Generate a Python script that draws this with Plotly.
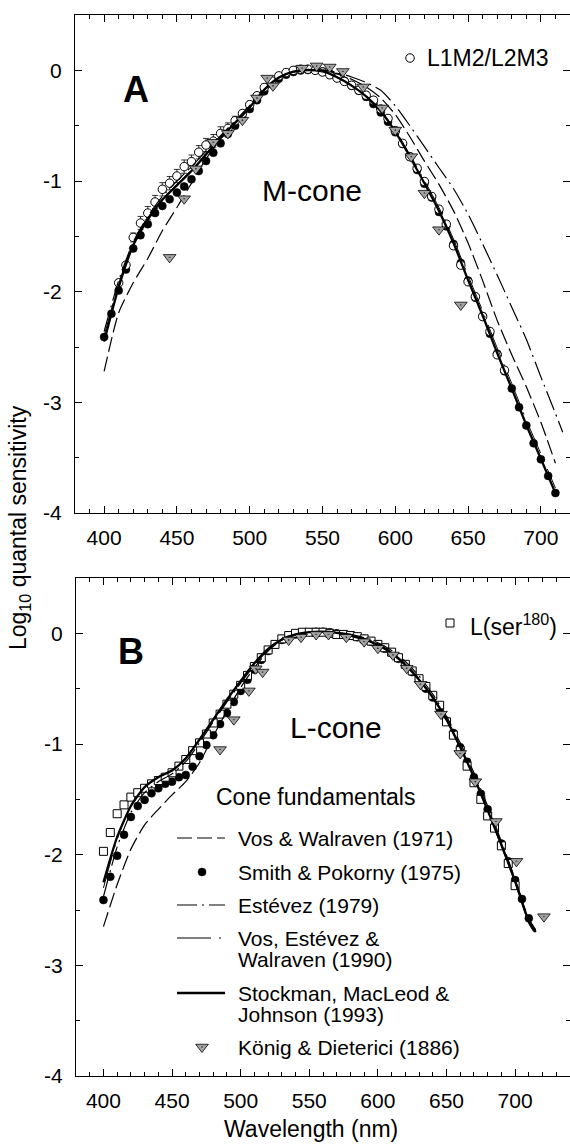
import plotly.graph_objects as go

# ---------------- data : panel A (M-cone) ----------------
wl_5_a = [400, 405, 410, 415, 420, 425, 430, 435, 440, 445, 450, 455, 460, 465, 470, 475,
          480, 485, 490, 495, 500, 505, 510, 515, 520, 525, 530, 535, 540, 545, 550, 555,
          560, 565, 570, 575, 580, 585, 590, 595, 600, 605, 610, 615, 620, 625, 630, 635,
          640, 645, 650, 655, 660, 665, 670, 675, 680, 685, 690, 695, 700, 705, 710]
m_smith_pokorny = [-2.41, -2.20, -1.99, -1.80, -1.61, -1.49, -1.39, -1.29, -1.225, -1.165,
                   -1.105, -1.05, -0.985, -0.91, -0.82, -0.745, -0.66, -0.575, -0.50, -0.43,
                   -0.35, -0.27, -0.19, -0.125, -0.075, -0.04, -0.015, -0.002, 0.003, 0.0,
                   -0.01, -0.03, -0.06, -0.095, -0.14, -0.185, -0.24, -0.305, -0.38, -0.465,
                   -0.56, -0.665, -0.78, -0.90, -1.025, -1.15, -1.28, -1.41, -1.57, -1.74,
                   -1.90, -2.055, -2.22, -2.38, -2.56, -2.72, -2.875, -3.045, -3.21, -3.37,
                   -3.515, -3.665, -3.82]

wl_m_hybrid = [410, 415, 420, 425, 430, 435, 440, 445, 450, 455, 460, 465, 470, 475, 480,
               485, 490, 495, 500, 505, 510, 515, 520, 525, 530, 535, 540, 545, 550, 555,
               560, 565, 570, 575, 580, 585, 590, 595, 600, 605, 610, 615, 620, 625, 630,
               635, 640, 645, 650, 655, 660, 665, 670, 675]
m_hybrid = [-1.92, -1.76, -1.51, -1.38, -1.29, -1.19, -1.075, -1.02, -0.955, -0.87, -0.825,
            -0.74, -0.675, -0.64, -0.57, -0.525, -0.455, -0.39, -0.31, -0.23, -0.155, -0.095,
            -0.05, -0.02, 0.0, 0.01, 0.01, 0.0, -0.015, -0.04, -0.07, -0.10, -0.135, -0.18,
            -0.225, -0.27, -0.35, -0.435, -0.545, -0.66, -0.78, -0.885, -1.005, -1.14, -1.255,
            -1.39, -1.585, -1.76, -1.91, -2.045, -2.225, -2.36, -2.57, -2.71]
m_hybrid_err = [0.03, 0.03, 0.04, 0.06, 0.06, 0.06, 0.06, 0.06, 0.06, 0.06, 0.06, 0.06, 0.06,
                0.06, 0.06, 0.05, 0.04, 0.03, 0.03, 0.03, 0.03, 0.03, 0.03, 0.03, 0.03, 0.03,
                0.03, 0.03, 0.03, 0.03, 0.03, 0.03, 0.03, 0.03, 0.03, 0.03, 0.03, 0.03, 0.03,
                0.03, 0.03, 0.03, 0.03, 0.03, 0.03, 0.03, 0.03, 0.03, 0.03, 0.03, 0.03, 0.03,
                0.03, 0.03]

wl_koenig_m = [445, 455, 463, 475, 485, 495, 505, 512, 516, 536, 546, 555, 564, 578, 591,
               600, 611, 620, 630, 645]
m_koenig = [-1.69, -1.16, -0.89, -0.65, -0.57, -0.45, -0.25, -0.07, -0.14, 0.02, 0.04, 0.03,
            -0.01, -0.15, -0.34, -0.54, -0.78, -1.11, -1.44, -2.12]

wl_10 = [400, 410, 420, 430, 440, 450, 460, 470, 480, 490, 500, 510, 520, 530, 540, 550,
         560, 570, 580, 590, 600, 610, 620, 630, 640, 650, 660, 670, 680, 690, 700, 710]
m_smj = [-2.45, -1.96, -1.58, -1.35, -1.17, -1.04, -0.91, -0.76, -0.61, -0.475, -0.335,
         -0.175, -0.065, -0.012, 0.003, -0.01, -0.062, -0.138, -0.235, -0.37, -0.555, -0.78,
         -1.02, -1.27, -1.56, -1.895, -2.215, -2.555, -2.875, -3.205, -3.51, -3.82]
m_vos_walraven = [-2.72, -2.19, -1.92, -1.70, -1.45, -1.24, -1.02, -0.80, -0.62, -0.47, -0.33,
                  -0.18, -0.07, -0.015, 0.005, 0.0, -0.03, -0.08, -0.15, -0.25, -0.40, -0.60,
                  -0.82, -1.03, -1.27, -1.56, -1.90, -2.26, -2.57, -2.86, -3.18, -3.55]
m_vew = [-2.40, -1.93, -1.56, -1.33, -1.16, -1.03, -0.90, -0.75, -0.60, -0.465, -0.33, -0.175,
         -0.065, -0.012, 0.003, -0.008, -0.058, -0.132, -0.228, -0.36, -0.54, -0.76, -0.995,
         -1.24, -1.525, -1.855, -2.175, -2.51, -2.83, -3.16, -3.465, -3.775]
wl_estevez_m = wl_10 + [715]
m_estevez = [-2.36, -1.90, -1.55, -1.32, -1.14, -1.00, -0.87, -0.73, -0.59, -0.455, -0.32,
             -0.17, -0.065, -0.015, 0.005, 0.005, -0.02, -0.06, -0.11, -0.18, -0.32, -0.50,
             -0.69, -0.88, -1.07, -1.30, -1.57, -1.85, -2.14, -2.43, -2.77, -3.10, -3.27]

# ---------------- data : panel B (L-cone) ----------------
wl_l_ser = [400, 405, 410, 415, 420, 425, 430, 435, 440, 445, 450, 455, 460, 465, 470, 475,
            480, 485, 490, 495, 500, 505, 510, 515, 520, 525, 530, 535, 540, 545, 550, 555,
            560, 565, 570, 575, 580, 585, 590, 595, 600, 605, 610, 615, 620, 625, 630, 635,
            640, 645, 650, 655, 660, 665, 670, 675, 680, 685, 690, 695, 700]
l_ser180 = [-1.97, -1.80, -1.63, -1.55, -1.48, -1.44, -1.40, -1.36, -1.33, -1.30, -1.26,
            -1.20, -1.14, -1.06, -0.99, -0.91, -0.81, -0.73, -0.64, -0.55, -0.47, -0.38,
            -0.30, -0.22, -0.15, -0.10, -0.05, -0.02, 0.0, 0.01, 0.01, 0.01, 0.01, 0.0,
            -0.01, -0.01, -0.02, -0.03, -0.05, -0.07, -0.10, -0.13, -0.17, -0.22, -0.28,
            -0.34, -0.41, -0.48, -0.56, -0.65, -0.80, -0.92, -1.06, -1.20, -1.35, -1.50,
            -1.65, -1.76, -1.92, -2.08, -2.28]

wl_5_b = wl_5_a
l_smith_pokorny = [-2.41, -2.20, -2.01, -1.82, -1.66, -1.56, -1.505, -1.445, -1.40, -1.36,
                   -1.34, -1.30, -1.28, -1.205, -1.11, -1.01, -0.92, -0.82, -0.72, -0.62,
                   -0.52, -0.42, -0.33, -0.24, -0.16, -0.10, -0.06, -0.03, -0.01, 0.0, 0.01,
                   0.015, 0.015, 0.01, 0.0, -0.01, -0.02, -0.035, -0.05, -0.075, -0.10, -0.14,
                   -0.18, -0.23, -0.29, -0.35, -0.42, -0.50, -0.58, -0.68, -0.79, -0.90, -1.03,
                   -1.16, -1.30, -1.45, -1.59, -1.74, -1.90, -2.06, -2.23, -2.40, -2.575]

wl_koenig_l = [485, 495, 506, 511, 516, 535, 544, 555, 564, 577, 590, 600, 611, 621, 631, 646,
               660, 671, 686, 701, 721]
l_koenig = [-1.05, -0.78, -0.52, -0.32, -0.35, -0.06, -0.035, -0.01, -0.01, -0.035, -0.075,
            -0.135, -0.195, -0.315, -0.46, -0.73, -1.085, -1.34, -1.70, -2.06, -2.56]

wl_10_b = wl_10 + [715]
l_smj = [-2.25, -1.84, -1.56, -1.39, -1.30, -1.24, -1.13, -0.96, -0.78, -0.60, -0.43, -0.27,
         -0.14, -0.055, -0.01, 0.01, 0.015, 0.005, -0.02, -0.055, -0.105, -0.18, -0.285,
         -0.42, -0.58, -0.78, -1.03, -1.30, -1.60, -1.91, -2.24, -2.60, -2.70]
l_vos_walraven = [-2.65, -2.27, -1.95, -1.73, -1.59, -1.46, -1.34, -1.17, -0.93, -0.70, -0.49,
                  -0.31, -0.16, -0.06, -0.01, 0.01, 0.015, 0.01, -0.01, -0.045, -0.095, -0.17,
                  -0.275, -0.41, -0.575, -0.78, -1.03, -1.30, -1.60, -1.92, -2.25, -2.62, -2.72]
l_estevez = [-2.38, -1.93, -1.62, -1.44, -1.34, -1.27, -1.16, -0.99, -0.80, -0.62, -0.45,
             -0.29, -0.15, -0.06, -0.015, 0.005, 0.015, 0.01, -0.01, -0.04, -0.085, -0.155,
             -0.255, -0.385, -0.55, -0.75, -0.99, -1.26, -1.56, -1.88, -2.22, -2.58, -2.68]
l_vew = [-2.30, -1.86, -1.56, -1.385, -1.295, -1.235, -1.12, -0.955, -0.775, -0.595, -0.425,
         -0.265, -0.135, -0.05, -0.008, 0.01, 0.015, 0.005, -0.02, -0.055, -0.10, -0.175,
         -0.28, -0.415, -0.575, -0.775, -1.02, -1.29, -1.59, -1.90, -2.23, -2.58, -2.68]

x_ticks = [400, 450, 500, 550, 600, 650, 700]
y_ticks = [-4, -3, -2, -1, 0]
y_ticktext = ["-4", "-3", "-2", "-1", "0"]

# ---------------- geometry (pixels) ----------------
W, H = 570, 1144
ML, MR, MT, MB = 75, 0, 15, 68
PW = W - ML - MR
PH = H - MT - MB


def px(x):
    return (x - ML) / PW


def py(y):
    return (H - MB - y) / PH


FONT = "Arial, Liberation Sans, Helvetica, sans-serif"

# line styles
ST_VW = dict(color="black", width=1.2, dash="15px,5px")
ST_EST = dict(color="black", width=1.2, dash="20px,5px,2px,5px")
ST_VEW = dict(color="black", width=1.0, dash="34px,8px,2px,8px")
ST_SMJ = dict(color="black", width=2.3)
MK_FILLED = dict(symbol="circle", size=8, color="black", line=dict(color="black", width=0.5))
MK_OPEN = dict(symbol="circle", size=8.5, color="white", line=dict(color="black", width=1))
MK_SQ = dict(symbol="square", size=8, color="white", line=dict(color="black", width=1))
MK_TRI = dict(symbol="triangle-down-dot", size=11, color="#a3a3a3",
              line=dict(color="black", width=0.8))

fig = go.Figure()


def add_panel(xa, ya, curves, points):
    for wl, vals, st in curves:
        fig.add_trace(go.Scatter(x=wl, y=vals, mode="lines", line=dict(shape="spline",
                                 smoothing=0.6, **st), xaxis=xa, yaxis=ya,
                                 showlegend=False, hoverinfo="skip"))
    for wl, vals, mk, err in points:
        kw = {}
        if err is not None:
            kw["error_y"] = dict(type="data", array=err, visible=True, color="black",
                                 thickness=0.8, width=3)
        fig.add_trace(go.Scatter(x=wl, y=vals, mode="markers", marker=mk, xaxis=xa,
                                 yaxis=ya, showlegend=False, hoverinfo="skip", **kw))


# panel A: points first, then curves over them, triangles on top
add_panel("x", "y",
          [],
          [(wl_5_a, m_smith_pokorny, MK_FILLED, None),
           (wl_m_hybrid, m_hybrid, MK_OPEN, m_hybrid_err)])
add_panel("x", "y",
          [(wl_10, m_vos_walraven, ST_VW), (wl_estevez_m, m_estevez, ST_EST),
           (wl_10, m_vew, ST_VEW), (wl_10, m_smj, ST_SMJ)],
          [(wl_koenig_m, m_koenig, MK_TRI, None)])

# panel B
add_panel("x2", "y2",
          [],
          [(wl_5_b, l_smith_pokorny, MK_FILLED, None),
           (wl_l_ser, l_ser180, MK_SQ, None)])
add_panel("x2", "y2",
          [(wl_10_b, l_vos_walraven, ST_VW), (wl_10_b, l_estevez, ST_EST),
           (wl_10_b, l_vew, ST_VEW), (wl_10_b, l_smj, ST_SMJ)],
          [(wl_koenig_l, l_koenig, MK_TRI, None)])

# ---------------- key (drawn on a pixel-space overlay axis) ----------------
KEY_X0, KEY_X1, KEY_XM = 177, 225, 202
key_lines = [(838, ST_VW), (905, ST_EST), (938, ST_VEW), (993, ST_SMJ)]
for ky, st in key_lines:
    fig.add_trace(go.Scatter(x=[KEY_X0, KEY_X1], y=[ky, ky], mode="lines", line=st,
                             xaxis="x3", yaxis="y3", showlegend=False, hoverinfo="skip"))
key_marks = [(KEY_XM, 872, MK_FILLED), (KEY_XM, 1047, MK_TRI), (410, 58, MK_OPEN),
             (450, 623, MK_SQ)]
for kx, ky, mk in key_marks:
    fig.add_trace(go.Scatter(x=[kx], y=[ky], mode="markers", marker=mk, xaxis="x3",
                             yaxis="y3", showlegend=False, hoverinfo="skip"))

annotations = []


def ann(text, x, y, size, xanchor="left", bold=False, angle=0):
    if bold:
        text = "<b>" + text + "</b>"
    annotations.append(dict(text=text, x=px(x), y=py(y), xref="paper", yref="paper",
                            xanchor=xanchor, yanchor="middle", showarrow=False,
                            textangle=angle, font=dict(family=FONT, size=size,
                                                       color="black")))


ann("A", 136, 90, 36, "center", bold=True)
ann("B", 131, 651, 36, "center", bold=True)
ann("M-cone", 312, 191, 30, "center")
ann("L-cone", 336, 727, 30, "center")
ann("L1M2/L2M3", 425, 58, 23)
ann("L(ser<sup>180</sup>)", 468, 625, 23)
ann("Cone fundamentals", 214, 797, 23)
TX = 236
ann("Vos &amp; Walraven (1971)", TX, 838, 21)
ann("Smith &amp; Pokorny (1975)", TX, 872, 21)
ann("Estévez (1979)", TX, 905, 21)
ann("Vos, Estévez &amp;", TX, 938, 21)
ann("Walraven (1990)", TX, 959, 21)
ann("Stockman, MacLeod &amp;", TX, 993, 21)
ann("Johnson (1993)", TX, 1014, 21)
ann("König &amp; Dieterici (1886)", TX, 1047, 21)
ann("Wavelength (nm)", 311, 1129, 23, "center")
ann("Log<sub>10</sub> quantal sensitivity", 19, 528, 23, "center", angle=-90)

tickfont = dict(family=FONT, size=21, color="black")
xcommon = dict(showline=True, linecolor="black", linewidth=1, mirror="ticks",
               ticks="inside", ticklen=7, tickwidth=1, tickcolor="black",
               tickmode="linear", tick0=400, dtick=50, tickfont=tickfont,
               minor=dict(ticks="inside", ticklen=4, tickcolor="black", tick0=400, dtick=10),
               showgrid=False, zeroline=False, fixedrange=True, ticklabelstandoff=6)
ycommon = dict(showline=True, linecolor="black", linewidth=1, mirror="ticks",
               ticks="inside", ticklen=7, tickwidth=1, tickcolor="black",
               tickmode="array", tickvals=y_ticks, ticktext=y_ticktext, tickfont=tickfont,
               minor=dict(ticks="inside", ticklen=4, tickcolor="black", tickmode="linear",
                          tick0=0, dtick=0.5),
               range=[-4, 0.5], showgrid=False, zeroline=False, fixedrange=True,
               ticklabelstandoff=8)

yA_bottom = py(513)
yB_top = py(578)

fig.update_layout(
    width=W, height=H,
    margin=dict(l=ML, r=MR, t=MT, b=MB),
    paper_bgcolor="white", plot_bgcolor="rgba(0,0,0,0)",
    showlegend=False,
    xaxis=dict(domain=[0, 1], range=[380, 720], anchor="y", **xcommon),
    yaxis=dict(domain=[yA_bottom, 1], anchor="x", **ycommon),
    xaxis2=dict(domain=[px(76), 1], range=[380, 740], anchor="y2", **xcommon),
    yaxis2=dict(domain=[0, yB_top], anchor="x2", **ycommon),
    xaxis3=dict(domain=[0, 1], range=[ML, W - MR], anchor="y3", visible=False,
                fixedrange=True),
    yaxis3=dict(domain=[0, 1], range=[H - MB, MT], anchor="x3", visible=False,
                fixedrange=True),
    annotations=annotations,
)

fig.write_html("out.html")
